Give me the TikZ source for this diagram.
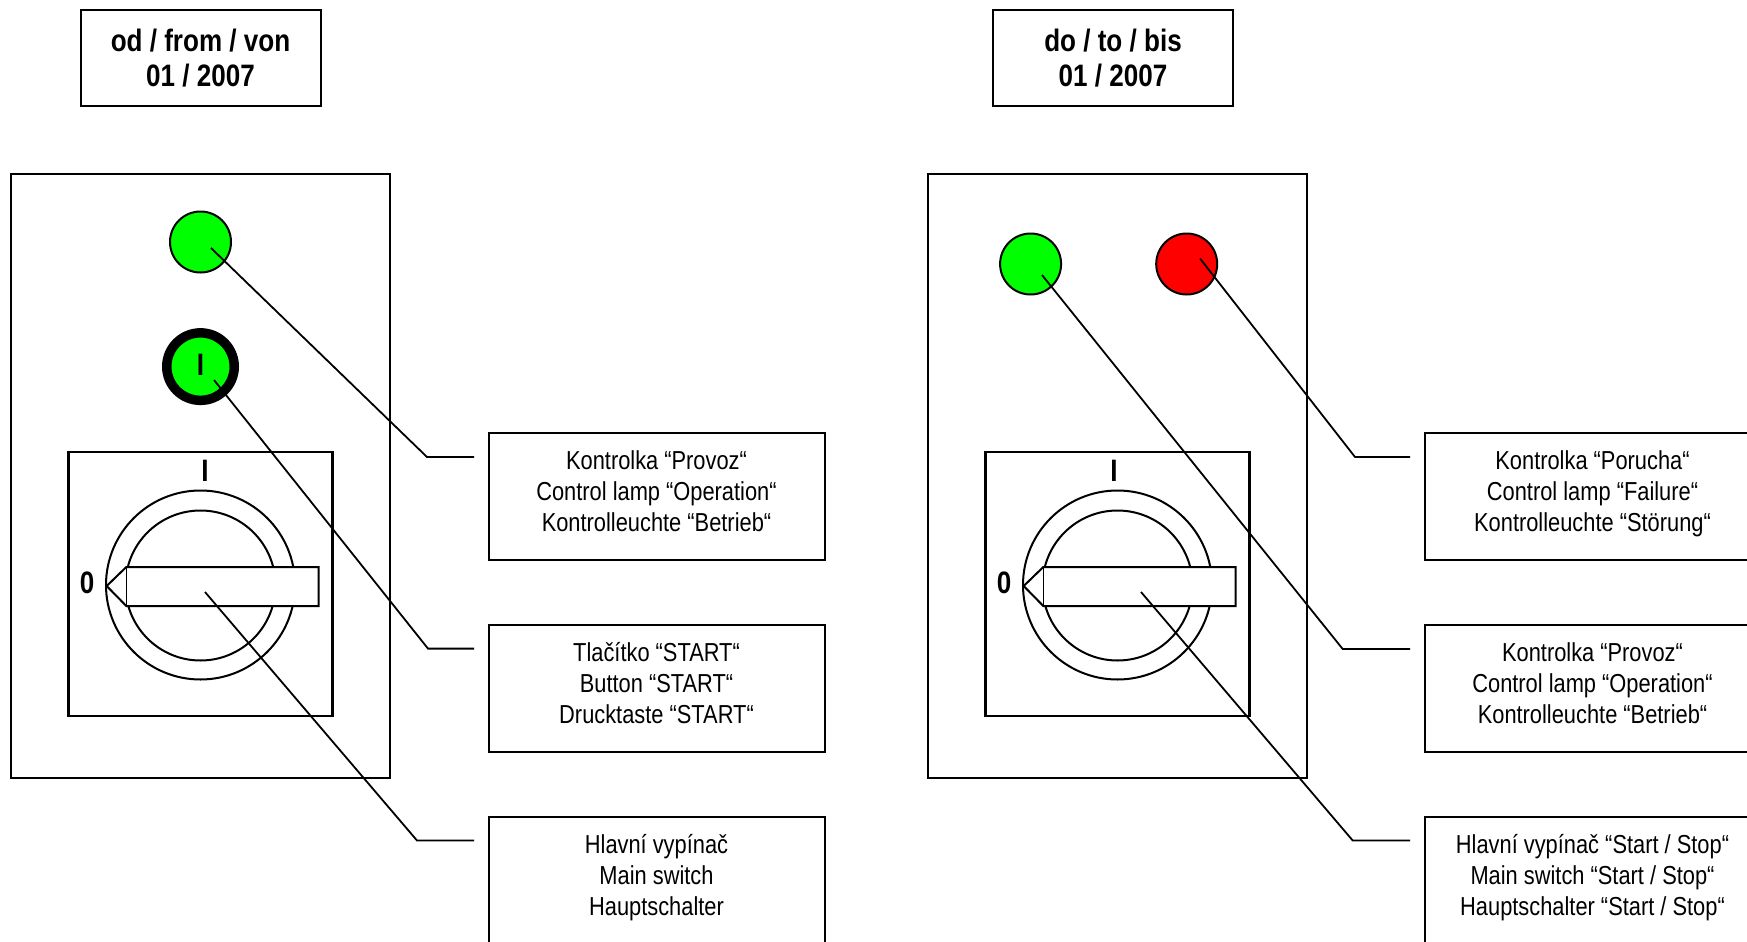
\documentclass[tikz,border=0pt]{standalone}
\usepackage{fontspec}
\setmainfont[FakeStretch=0.84]{Liberation Sans}
\usepackage{tikz}
\usetikzlibrary{positioning}

\definecolor{zelena}{RGB}{0,255,0}
\definecolor{cervena}{RGB}{255,0,0}
\newcommand{\tripopis}[3]{#1\\#2\\#3\\[-10pt]\mbox{}}

\begin{document}
\begin{tikzpicture}[x=0.5pt,y=-0.5pt,line width=1pt,
    hlava/.style={draw,minimum width=120pt,minimum height=48pt,inner sep=0pt,align=center,
      font=\fontsize{15.5}{17.8}\selectfont\bfseries},
    panel/.style={draw,minimum width=189.25pt,minimum height=302pt},
    ctverec/.style={draw,line width=1.3pt,minimum size=132pt},
    kruh/.style={draw,circle,fill=white,inner sep=0pt,minimum size=#1},
    kontrolka/.style={draw,circle,fill=#1,inner sep=0pt,minimum size=30.5pt},
    znak/.style={font=\fontsize{15.5}{18.5}\selectfont\bfseries,inner sep=0pt},
    popis/.style={draw,minimum width=168pt,minimum height=63.5pt,inner sep=0pt,align=center,
      font=\fontsize{13}{15.5}\selectfont},
    vodic/.style={line width=0.9pt}]
  \useasboundingbox (0,0) rectangle (1747,942);

  % left side
  \node [hlava] (od) at (200.5,58) {od / from / von\\01 / 2007};
  \node [panel] (panelA) at (200.5,476) {};
  \node [kontrolka=zelena] (lampA) at (200.5,242) {};
  \node [draw,circle,fill=zelena,line width=4.75pt,inner sep=0pt,minimum size=33.75pt] (tlacitko) at (200.5,366.6) {};
  \node [znak] (tlacitkoI) at (200.5,365) {I};
  \node [ctverec] (ctverecA) at (200.5,584) {};
  \node [znak] (jednaA) at (205,471) {I};
  \node [znak] (nulaA) at (87,582.5) {0};
  \node [kruh=94.5pt] (vnejsiA) at (200.5,585) {};
  \node [kruh=75pt] (vnitrniA) at (200.5,585.5) {};
  \draw [fill=white] (106.7,586) -- (126.3,567) -- (318.5,567) -- (318.5,606) -- (126.3,606) -- cycle;
  \draw [line width=0.7pt] (126.3,567) -- (126.3,606);

  \node [popis] (provozA) at (656.5,496.5) {\tripopis{Kontrolka “Provoz“}{Control lamp “Operation“}{Kontrolleuchte “Betrieb“}};
  \node [popis] (start) at (656.5,688.5) {\tripopis{Tlačítko “START“}{Button “START“}{Drucktaste “START“}};
  \node [popis] (vypinacA) at (656.5,880) {\tripopis{Hlavní vypínač}{Main switch}{Hauptschalter}};

  \coordinate (a1) at (211,248);
  \coordinate (a2) at (214,380);
  \coordinate (a3) at (205,592);
  \draw [vodic] (a1) -- (427,457) -- (474,457);
  \draw [vodic] (a2) -- (428,648.6) -- (474,648.6);
  \draw [vodic] (a3) -- (417,840.5) -- (474,840.5);

  % right side
  \node [hlava] (do) at (1113,58) {do / to / bis\\01 / 2007};
  \node [panel] (panelB) at (1117.5,476) {};
  \node [kontrolka=zelena] (lampB) at (1030.6,264) {};
  \node [kontrolka=cervena] (lampC) at (1186.7,264) {};
  \node [ctverec] (ctverecB) at (1117.5,584) {};
  \node [znak] (jednaB) at (1114,471) {I};
  \node [znak] (nulaB) at (1004,582.5) {0};
  \node [kruh=94.5pt] (vnejsiB) at (1117.5,585) {};
  \node [kruh=75pt] (vnitrniB) at (1117.5,585.5) {};
  \draw [fill=white] (1023.7,586) -- (1043.3,567) -- (1235.5,567) -- (1235.5,606) -- (1043.3,606) -- cycle;
  \draw [line width=0.7pt] (1043.3,567) -- (1043.3,606);

  \node [popis] (poruchaB) at (1592.5,496.5) {\tripopis{Kontrolka “Porucha“}{Control lamp “Failure“}{Kontrolleuchte “Störung“}};
  \node [popis] (provozB) at (1592.5,688.5) {\tripopis{Kontrolka “Provoz“}{Control lamp “Operation“}{Kontrolleuchte “Betrieb“}};
  \node [popis] (vypinacB) at (1592.5,880) {\tripopis{Hlavní vypínač “Start / Stop“}{Main switch “Start / Stop“}{Hauptschalter “Start / Stop“}};

  \coordinate (b1) at (1200,258.5);
  \coordinate (b2) at (1042,275);
  \coordinate (b3) at (1141,592);
  \draw [vodic] (b1) -- (1355,457) -- (1410,457);
  \draw [vodic] (b2) -- (1342.7,649) -- (1410,649);
  \draw [vodic] (b3) -- (1352.7,840.5) -- (1410,840.5);
\end{tikzpicture}
\end{document}
